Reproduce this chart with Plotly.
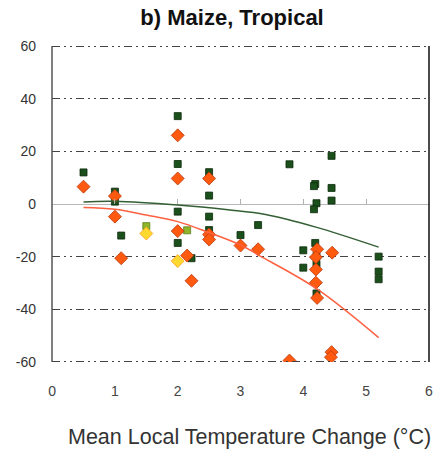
import plotly.graph_objects as go

# Dark green squares (with adaptation)
sq_x = [0.5, 1.0, 1.0, 1.1, 2.0, 2.0, 2.0, 2.0, 2.22, 2.5, 2.5, 2.5, 2.5,
        3.0, 3.28, 3.78, 4.0, 4.0, 4.19, 4.17, 4.21, 4.17, 4.19, 4.21, 4.21,
        4.21, 4.45, 4.45, 4.45, 5.2, 5.2, 5.2]
sq_y = [12.0, 4.7, 0.9, -12.0, 33.4, 15.2, -2.9, -14.8, -20.6, 12.1, 3.2, -4.8, -9.9,
        -11.8, -8.0, 15.1, -17.6, -24.2, 7.6, 6.8, 0.3, -2.0, -14.8, -19.8, -22.8,
        -34.0, 18.3, 6.1, 1.3, -20.0, -25.7, -28.6]

# Orange diamonds (no adaptation)
dm_x = [0.5, 1.0, 1.0, 1.1, 2.0, 2.0, 2.0, 2.15, 2.22, 2.5, 2.5, 2.5,
        3.0, 3.28, 3.78, 4.22, 4.2, 4.2, 4.2, 4.22, 4.46, 4.45, 4.44]
dm_y = [6.6, 3.0, -4.8, -20.6, 26.1, 9.7, -10.3, -19.6, -29.2, 9.7, -11.6, -13.5,
        -15.8, -17.2, -59.5, -17.2, -20.2, -24.9, -29.9, -35.7, -18.5, -56.3, -58.2]

# Light green squares and yellow diamonds
lg_x = [1.5, 2.15]
lg_y = [-8.4, -10.0]
yd_x = [1.5, 2.0]
yd_y = [-11.2, -21.7]

# Trend lines
green_x = [0.5, 1.0, 2.0, 2.8, 3.4, 4.2, 5.2]
green_y = [0.8, 1.0, -0.4, -2.2, -4.0, -8.8, -16.4]
red_x = [0.5, 1.0, 1.5, 2.0, 2.5, 3.0, 3.3, 4.2, 5.2]
red_y = [-1.3, -2.0, -4.2, -6.7, -10.9, -15.6, -19.6, -32.0, -50.8]

x_ticks = [0, 1, 2, 3, 4, 5, 6]
y_ticks = [-60, -40, -20, 0, 20, 40, 60]
y_min, y_max = y_ticks[0], y_ticks[-1]

GRID_DASH = "8px,4px,2px,4px,2px,4px"

fig = go.Figure()
fig.add_trace(go.Scatter(x=green_x, y=green_y, mode="lines", xaxis="x2",
                         line=dict(color="#345f34", width=1.5, shape="spline"),
                         hoverinfo="skip"))
fig.add_trace(go.Scatter(x=red_x, y=red_y, mode="lines", xaxis="x2",
                         line=dict(color="#ff6040", width=1.5, shape="spline"),
                         hoverinfo="skip"))
fig.add_trace(go.Scatter(x=sq_x, y=sq_y, mode="markers",
                         marker=dict(symbol="square", size=7, color="#1b4f1b",
                                     line=dict(color="#0b2b0b", width=0.8))))
fig.add_trace(go.Scatter(x=lg_x, y=lg_y, mode="markers",
                         marker=dict(symbol="square", size=7, color="#8db52a",
                                     line=dict(color="#5d7d1a", width=0.8))))
fig.add_trace(go.Scatter(x=dm_x, y=dm_y, mode="markers",
                         marker=dict(symbol="diamond", size=10, color="#ff5a10",
                                     line=dict(color="#b83a10", width=0.8))))
fig.add_trace(go.Scatter(x=yd_x, y=yd_y, mode="markers",
                         marker=dict(symbol="diamond", size=10, color="#ffd830",
                                     line=dict(color="#ff9a20", width=0.8))))

fig.update_layout(
    width=442, height=453,
    margin=dict(l=52, r=9, t=46, b=91),
    paper_bgcolor="white", plot_bgcolor="white",
    showlegend=False,
    font=dict(family="Liberation Sans, Arial, sans-serif", color="#333333"),
    title=dict(text="<b>b) Maize, Tropical</b>", x=0.525, xanchor="center",
               y=1 - 17 / 453, yanchor="middle", yref="container",
               font=dict(size=22, color="#111111")),
    xaxis=dict(range=[-0.002, 6.002], tickvals=x_ticks, ticktext=[str(v) for v in x_ticks],
               showgrid=False, zeroline=False, showline=False, ticks="",
               ticklabelstandoff=19,
               tickfont=dict(size=14, color="#444444")),
    xaxis2=dict(range=[-0.002, 6.002], overlaying="x", anchor="free", position=0.5,
                tickvals=x_ticks, showticklabels=False, showgrid=False,
                zeroline=False, showline=False, ticks="inside", ticklen=5,
                tickcolor="#b0b0b0", tickwidth=1),
    yaxis=dict(range=[y_min - 0.05, y_max + 0.05], tickvals=y_ticks,
               ticktext=[str(v) for v in y_ticks],
               showgrid=True, gridcolor="#444444", gridwidth=1,
               griddash=GRID_DASH,
               zeroline=True, zerolinecolor="#b8b8b8", zerolinewidth=1,
               showline=False,
               ticks="", ticklabelstandoff=15,
               tickfont=dict(size=14, color="#333333",
                             family="Liberation Sans Narrow, Arial Narrow, Liberation Sans")),
    shapes=[
        dict(type="line", xref="paper", yref="y", x0=0, x1=1, y0=y_max, y1=y_max,
             line=dict(color="#444444", width=1.5, dash=GRID_DASH)),
        dict(type="line", xref="paper", yref="y", x0=0, x1=1, y0=y_min, y1=y_min,
             line=dict(color="#444444", width=1.5, dash=GRID_DASH)),
        dict(type="line", xref="paper", yref="paper", x0=0, x1=0, y0=0, y1=1,
             line=dict(color="#555555", width=1.5)),
        dict(type="line", xref="paper", yref="paper", x0=1, x1=1, y0=0, y1=1,
             line=dict(color="#111111", width=1.5)),
    ],
)

fig.add_annotation(text="Mean Local Temperature Change (°C)", xref="paper", yref="paper",
                   x=(252 - 52) / 381, y=-(437 - 362) / 316, xanchor="center", yanchor="middle",
                   showarrow=False, font=dict(size=21.5, color="#333333"))

fig.write_html("out.html", config={"displayModeBar": False},
               post_script="document.body.style.margin='0';")
